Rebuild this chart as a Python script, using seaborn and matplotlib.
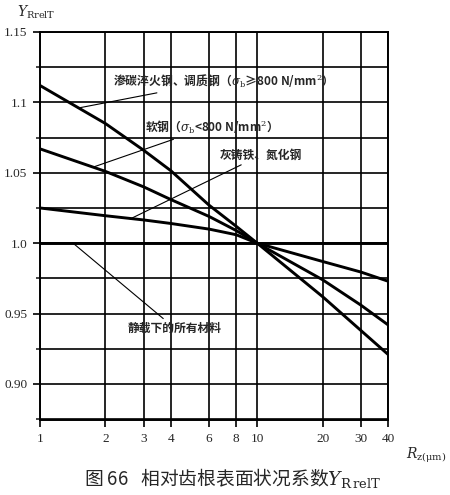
import numpy as np
import pandas as pd
import matplotlib
matplotlib.use("Agg")
import matplotlib.pyplot as plt
import matplotlib.ticker as mticker
import seaborn as sns

# ---- data ----
rz = [1, 2, 3, 4, 6, 8, 10, 20, 30, 40]
y_hard = [1.112, 1.085, 1.066, 1.0515, 1.027, 1.012, 1.000, 0.962, 0.938, 0.921]
y_soft = [1.067, 1.051, 1.040, 1.031, 1.019, 1.009, 1.000, 0.974, 0.956, 0.942]
y_cast = [1.025, 1.0195, 1.0165, 1.014, 1.010, 1.006, 1.000, 0.987, 0.9795, 0.973]
y_static = [1.0, 1.0, 1.0, 1.0, 1.0, 1.0, 1.0, 1.0, 1.0, 1.0]

series_names = ["hard", "soft", "cast", "static"]
x_ticks = [1, 2, 3, 4, 6, 8, 10, 20, 30, 40]
x_ticklabels = ["1", "2", "3", "4", "6", "8", "10", "20", "30", "40"]
y_major = [0.90, 0.95, 1.0, 1.05, 1.1, 1.15]
y_major_labels = ["0.90", "0.95", "1.0", "1.05", "1.1", "1.15"]
y_minor = [0.875, 0.925, 0.975, 1.025, 1.075, 1.125]

label_hard = "渗碳淬火钢、调质钢（$\\sigma_{\\rm b}$≥800 N/mm$^2$）"
label_soft = "软钢（$\\sigma_{\\rm b}$<800 N/mm$^2$）"
label_cast = "灰铸铁、氮化钢"
label_static = "静载下的所有材料"
caption = "图 66   相对齿根表面状况系数$Y_{\\rm R\\,relT}$"

df = pd.DataFrame({
    "Rz": rz * 4,
    "Y": y_hard + y_soft + y_cast + y_static,
    "series": sum([[s] * len(rz) for s in series_names], []),
})

sns.set_style("ticks")
plt.rcParams["font.family"] = ["Noto Sans CJK SC", "DejaVu Sans"]
plt.rcParams["mathtext.fontset"] = "dejavuserif"

fig = plt.figure(figsize=(4.5, 4.95), dpi=100)
ax = fig.add_axes([40 / 450, 1 - 420 / 495, 348 / 450, 388 / 495])

sns.lineplot(data=df, x="Rz", y="Y", units="series", estimator=None,
             color="black", linewidth=2.1, ax=ax, legend=False)

ax.set_xscale("log")
ax.set_xlim(1, 40)
ax.set_ylim(0.8744, 1.15)

ax.xaxis.set_major_locator(mticker.FixedLocator(x_ticks))
ax.xaxis.set_major_formatter(mticker.FixedFormatter(x_ticklabels))
ax.xaxis.set_minor_locator(mticker.NullLocator())
ax.yaxis.set_major_locator(mticker.FixedLocator(y_major))
ax.yaxis.set_major_formatter(mticker.FixedFormatter(y_major_labels))
ax.yaxis.set_minor_locator(mticker.FixedLocator(y_minor))

ax.grid(True, which="both", color="black", linewidth=1.2)
ax.set_axisbelow(True)
for sp in ax.spines.values():
    sp.set_linewidth(1.4)
    sp.set_color("black")
ax.tick_params(axis="both", which="major", length=5, width=1.2, color="black",
               labelsize=9.5, pad=4)
ax.tick_params(axis="y", which="minor", length=3, width=1.2)
for lab in ax.get_xticklabels() + ax.get_yticklabels():
    lab.set_fontfamily("Liberation Serif")
ax.set_xlabel("")
ax.set_ylabel("")

ann_kw = dict(xycoords="data", textcoords="data", fontsize=8.5, va="center",
              ha="left", fontweight="bold",
              arrowprops=dict(arrowstyle="-", color="black", lw=0.8,
                              shrinkA=0, shrinkB=0))
ax.annotate(label_hard, xy=(1.50, 1.096), xytext=(2.17, 1.1155), **ann_kw)
ax.annotate(label_soft, xy=(1.755, 1.054), xytext=(3.05, 1.0825), **ann_kw)
ax.annotate(label_cast, xy=(2.60, 1.0172), xytext=(6.75, 1.0626), **ann_kw)
ax.annotate(label_static, xy=(1.42, 1.0), xytext=(2.54, 0.9395), **ann_kw)

ax.text(-0.065, 1.052, "$Y_{\\rm RrelT}$", transform=ax.transAxes,
        fontsize=10, ha="left", va="center")
ax.text(1.11, -0.09, "$R_{\\rm z(\\mu m)}$", transform=ax.transAxes,
        fontsize=10, ha="center", va="center")

fig.text(0.516, 0.034, caption, ha="center", va="center", fontsize=13.5)

fig.savefig("out.png", dpi=100)
